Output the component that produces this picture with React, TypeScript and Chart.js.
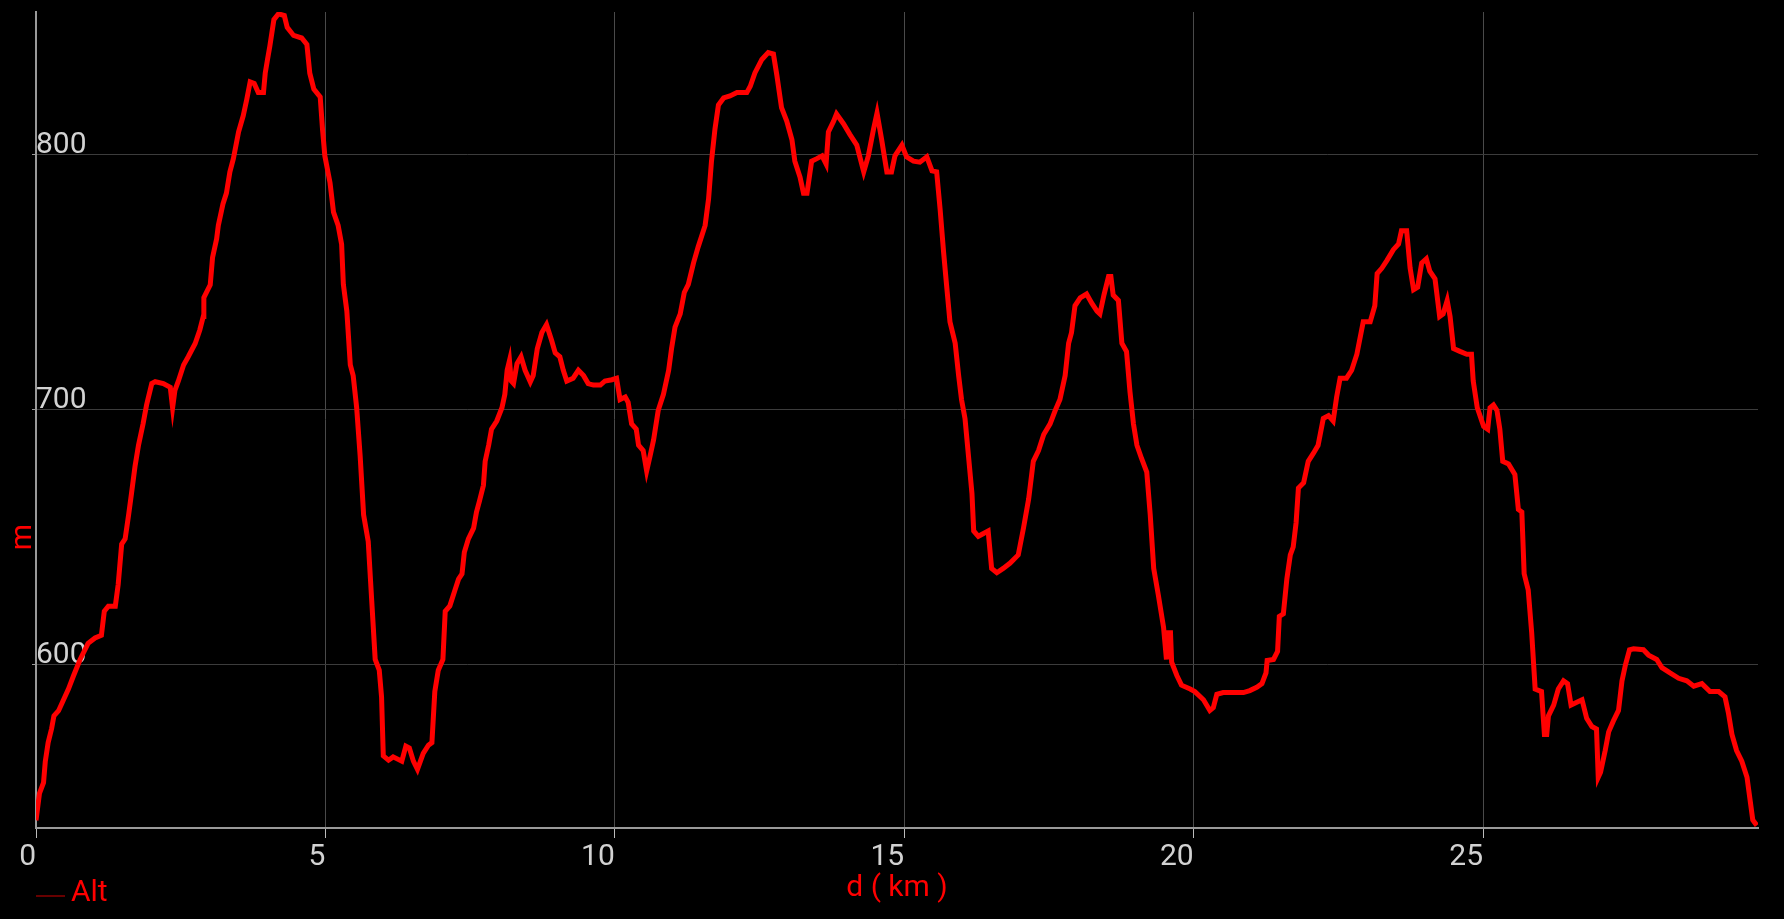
import React, { useEffect, useRef } from "react";
import { Chart, registerables } from "chart.js";

Chart.register(...registerables);

const DISTANCE_KM = [
  0.0, 0.06, 0.13, 0.16, 0.21, 0.27, 0.31, 0.39, 0.47, 0.56, 0.65, 0.76, 0.9, 1.02, 1.13, 1.18, 1.25, 1.37, 1.42, 1.48,
  1.54, 1.6, 1.65, 1.71, 1.77, 1.85, 1.91, 2.0, 2.06, 2.2, 2.32, 2.36, 2.4, 2.46, 2.55, 2.63, 2.75, 2.83, 2.89, 2.9,
  3.01, 3.05, 3.12, 3.15, 3.23, 3.29, 3.35, 3.41, 3.5, 3.58, 3.64, 3.7, 3.77, 3.84, 3.93, 3.96, 4.0, 4.04, 4.11, 4.19,
  4.29, 4.34, 4.45, 4.59, 4.68, 4.73, 4.8, 4.91, 4.95,
  4.99, 5.08, 5.14, 5.22, 5.28, 5.31, 5.37, 5.43, 5.48, 5.54, 5.6, 5.66, 5.74, 5.8, 5.86, 5.93, 5.97, 6.0, 6.09, 6.17,
  6.32, 6.39, 6.45, 6.52, 6.59, 6.69, 6.78, 6.84, 6.89, 6.95, 7.03, 7.07, 7.15, 7.24, 7.3, 7.36, 7.4, 7.47, 7.56, 7.61,
  7.66, 7.73, 7.76, 7.82, 7.87, 7.96, 8.05, 8.1, 8.14, 8.18, 8.21, 8.25, 8.31, 8.38, 8.45, 8.54, 8.59, 8.66, 8.74, 8.82,
  8.91, 8.97, 9.05, 9.11, 9.17, 9.28, 9.37, 9.46, 9.54, 9.63, 9.75, 9.83, 9.95,
  10.03, 10.09, 10.18, 10.23, 10.29, 10.37, 10.41, 10.49, 10.55, 10.61, 10.67, 10.75, 10.84, 10.93, 10.98, 11.04, 11.13,
  11.2, 11.27, 11.36, 11.44, 11.56, 11.62, 11.67, 11.73, 11.79, 11.88, 11.99, 12.11, 12.28, 12.34, 12.42, 12.54, 12.65,
  12.74, 12.8, 12.88, 12.97, 13.06, 13.11, 13.2, 13.26, 13.32, 13.4, 13.49, 13.58, 13.65, 13.69, 13.78, 13.83, 13.95,
  14.06, 14.18, 14.3, 14.38, 14.47, 14.53, 14.61, 14.7, 14.78, 14.84, 14.96,
  15.04, 15.16, 15.27, 15.39, 15.48, 15.56, 15.62, 15.68, 15.73, 15.79, 15.88, 15.94, 15.99, 16.05, 16.11, 16.17, 16.2,
  16.28, 16.37, 16.45, 16.51, 16.6, 16.71, 16.83, 16.97, 17.06, 17.15, 17.23, 17.32, 17.41, 17.52, 17.61, 17.69, 17.78,
  17.84, 17.89, 17.95, 18.04, 18.15, 18.24, 18.33, 18.38, 18.45, 18.53, 18.57, 18.61, 18.7, 18.76, 18.84, 18.9, 18.96,
  19.02, 19.1, 19.19, 19.25, 19.31, 19.39, 19.48, 19.53, 19.56, 19.6, 19.62, 19.71, 19.79, 19.94, 20.02,
  20.17, 20.28, 20.34, 20.4, 20.51, 20.69, 20.86, 20.97, 21.09, 21.18, 21.25, 21.27, 21.38, 21.45, 21.48, 21.55, 21.61,
  21.67, 21.72, 21.77, 21.81, 21.9, 21.98, 22.07, 22.15, 22.24, 22.33, 22.41, 22.47, 22.53, 22.64, 22.73, 22.82, 22.93,
  23.05, 23.13, 23.17, 23.25, 23.34, 23.45, 23.54, 23.59, 23.68, 23.74, 23.8, 23.87, 23.94, 24.02, 24.08, 24.17, 24.25,
  24.31, 24.38, 24.43, 24.49, 24.6, 24.72, 24.8, 24.83, 24.9,
  25.01, 25.08, 25.12, 25.18, 25.24, 25.29, 25.34, 25.44, 25.55, 25.61, 25.67, 25.71, 25.78, 25.84, 25.9, 26.01, 26.06,
  26.1, 26.13, 26.22, 26.3, 26.39, 26.46, 26.52, 26.62, 26.71, 26.79, 26.88, 26.96, 26.99, 27.03, 27.11, 27.17, 27.25,
  27.34, 27.4, 27.46, 27.53, 27.6, 27.77, 27.86, 28.0, 28.09, 28.23, 28.38, 28.52, 28.64, 28.78, 28.92, 29.07, 29.18,
  29.24, 29.3, 29.38, 29.47, 29.56, 29.61, 29.66, 29.73,
];

const ALTITUDE_M = [
  539, 549.6, 553.8, 562, 569.5, 575, 580, 582, 586, 590.5, 595.8, 602, 608.4, 610.5, 611.6, 621, 623, 623, 631.5, 647.3,
  649.4, 658.8, 667.2, 677.7, 686, 694.5, 701.9, 710.3, 711, 710.3, 708.8, 700.8, 707.6, 711.3, 717.6, 720.8, 726, 731.3, 736.6, 744,
  749, 759.7, 767, 772.3, 780.7, 785, 793.3, 798.5, 809, 815.3, 821.6, 828.6, 828, 824.4, 824.4, 832, 837.4, 842.6, 853, 855.3,
  854.6, 850, 846.8, 845.8, 843.3, 832, 825.8, 822.7, 810,
  799.6, 789, 777.5, 772.3, 764.9, 749.2, 738.7, 717.6, 713.4, 700.8, 682, 658.8, 648.3, 625.2, 602.1, 597.9, 587.4, 564.3, 562.6, 563.9,
  562.2, 568.1, 567.4, 562.2, 559, 565.3, 568.5, 569.5, 589.5, 597.9, 602.1, 621, 623.1, 629.4, 633.6, 635.7, 644.1, 649.4, 653.6, 659.9,
  664.1, 670.4, 679.8, 686.1, 692.4, 695.6, 700.8, 706.1, 715.5, 719.3, 711.3, 710.3, 718.1, 720.8, 715.5, 710.9, 713.4, 723.9, 730.3, 733.4,
  727.1, 722.3, 720.8, 715.5, 711.3, 712.4, 715.5, 713.4, 710.3, 709.7, 709.7, 711.3, 711.8,
  712.4, 704, 705, 702.9, 694.5, 692.4, 686.1, 684, 676, 682, 688.2, 699.8, 706.1, 715.5, 724, 732.4, 737.6,
  746, 749.2, 757.6, 763.9, 772.3, 782.8, 797.5, 810.1, 819.5, 822.3, 823.1, 824.4, 824.4, 826.9, 832.1, 837.4, 840.1,
  839.5, 831.1, 818.5, 813.2, 805.9, 797.5, 791.2, 784.9, 784.9, 797.5, 798.5, 799.6, 796.4, 809, 813.2, 816, 812.2,
  808, 803.8, 793.3, 799.6, 810.1, 816.4, 805.9, 793.3, 793.3, 799.6, 803.8,
  799.2, 797.5, 797.1, 799.2, 793.7, 793.3, 778.6, 761.8, 749.2, 734.5, 726.1, 713.4, 704, 696.6, 681.9, 667.2, 652.5,
  650.4, 651.5, 652.5, 637.8, 636.1, 637.8, 639.9, 643.1, 653.6, 665.1, 679.8, 684, 690.3, 694.5, 699.8, 704, 713.4,
  726.1, 730.3, 740.8, 743.9, 745.4, 741.8, 738.7, 737.6, 745, 752.3, 752.3, 745, 742.9, 726.1, 722.9, 707.1, 694.5,
  686.1, 680.9, 675.6, 658.8, 637.8, 627.3, 614.7, 602.1, 612.6, 612.6, 601, 595.8, 592, 590.5, 589.5,
  586.3, 582.1, 583.2, 588.4, 589.1, 589.1, 589.1, 589.9, 591.2, 592.6, 596.8, 601.7, 602.1, 605.3, 619, 620, 633.6,
  643.1, 646.2, 655.7, 669.3, 671.4, 679.8, 683, 686.1, 696.6, 697.7, 695.6, 705, 712.4, 712.4, 715.5, 721.8, 734.5,
  734.5, 740.8, 753.4, 755.5, 758.6, 762.8, 765, 770.2, 770.2, 755.5, 747.1, 748.1, 757.6, 759.2, 754.4, 751.3, 736.6,
  737.6, 742.9, 736.6, 724, 722.9, 721.8, 721.8, 711.3, 700.8,
  693.5, 692.4, 700.8, 701.9, 699.8, 692.4, 679.8, 678.8, 674.6, 660.9, 659.9, 635.7, 629.4, 612.6, 590.5, 589.5, 572.7,
  572.7, 580, 584.2, 590.5, 593.7, 592.6, 584.2, 585.3, 586.3, 579, 575.8, 574.8, 555.9, 557.9, 566.4, 573.7, 577.9,
  582.1, 593.7, 600, 605.9, 606.3, 605.9, 603.8, 602.1, 598.9, 596.8, 594.7, 593.7, 591.6, 592.6, 589.5, 589.5, 587.4,
  581, 572.7, 566.4, 562.2, 555.9, 547.5, 539.1, 537,
];

const X_TICKS = [0, 5, 10, 15, 20, 25];
const Y_TICKS = [600, 700, 800];
const X_RANGE = [0, 29.75];
const Y_RANGE = [536, 856];
const SERIES_LABEL = "Alt";
const X_TITLE = "d ( km )";
const Y_TITLE = "m";

const FONT = "Roboto";

const extraText = {
  id: "extraText",
  afterDraw(chart: any) {
    const ctx = chart.ctx;
    ctx.save();
    // legend
    ctx.strokeStyle = "#8a0000";
    ctx.lineWidth = 1.5;
    ctx.beginPath();
    ctx.moveTo(36, 896);
    ctx.lineTo(65, 896);
    ctx.stroke();
    ctx.fillStyle = "#ff0000";
    ctx.font = `30px ${FONT}`;
    ctx.textAlign = "left";
    ctx.textBaseline = "alphabetic";
    ctx.fillText(SERIES_LABEL, 71, 901);
    // y title
    ctx.translate(30.5, 537);
    ctx.rotate(-Math.PI / 2);
    ctx.textAlign = "center";
    ctx.fillText(Y_TITLE, 0, 0);
    ctx.restore();
  },
};

export default function App() {
  const ref = useRef<HTMLCanvasElement | null>(null);
  useEffect(() => {
    const canvas = ref.current!;
    const points = DISTANCE_KM.map((d, i) => ({ x: d, y: ALTITUDE_M[i] }));
    const chart = new Chart(canvas, {
      type: "line",
      data: {
        datasets: [
          {
            label: SERIES_LABEL,
            data: points,
            borderColor: "#ff0000",
            borderWidth: 5,
            pointRadius: 0,
            tension: 0,
            fill: false,
          },
        ],
      },
      plugins: [extraText],
      options: {
        animation: false,
        responsive: false,
        devicePixelRatio: 1,
        events: [],
        layout: { padding: { top: 12, right: 26, left: 0, bottom: 0 } },
        plugins: { legend: { display: false }, tooltip: { enabled: false } },
        scales: {
          x: {
            type: "linear",
            min: X_RANGE[0],
            max: X_RANGE[1],
            afterBuildTicks: (s: any) => {
              s.ticks = X_TICKS.map((v) => ({ value: v }));
            },
            afterFit: (s: any) => {
              s.height = 91;
              s.paddingLeft = 0;
              s.paddingRight = 0;
            },
            grid: {
              color: "#4a4a4a",
              lineWidth: 1,
              drawTicks: true,
              tickLength: 10,
              tickColor: "#bbbbbb",
            },
            border: { display: true, color: "#9a9a9a", width: 2 },
            ticks: {
              color: "#d2d2d2",
              font: { family: FONT, size: 30 },
              align: "end",
              padding: 1,
              maxRotation: 0,
              autoSkip: false,
            },
            title: {
              display: true,
              text: X_TITLE,
              color: "#ff0000",
              font: { family: FONT, size: 30 },
              padding: { top: 0, bottom: 13 },
            },
          },
          y: {
            type: "linear",
            min: Y_RANGE[0],
            max: Y_RANGE[1],
            afterBuildTicks: (s: any) => {
              s.ticks = Y_TICKS.map((v) => ({ value: v }));
            },
            afterFit: (s: any) => {
              s.width = 36;
              s.paddingTop = 0;
              s.paddingBottom = 0;
            },
            grid: {
              color: "#3c3c3c",
              lineWidth: 1,
              drawTicks: true,
              tickLength: 4,
              tickColor: "#9a9a9a",
            },
            border: { display: true, color: "#9a9a9a", width: 2 },
            ticks: {
              color: "#d2d2d2",
              font: { family: FONT, size: 30 },
              mirror: true,
              padding: 0,
              labelOffset: -9,
            },
          },
        },
      },
    });
    return () => chart.destroy();
  }, []);
  return (
    <div style={{ position: "fixed", left: 0, top: 0, width: 1784, height: 919, background: "#000" }}>
      <canvas ref={ref} width={1784} height={919} style={{ display: "block", width: 1784, height: 919 }} />
    </div>
  );
}
